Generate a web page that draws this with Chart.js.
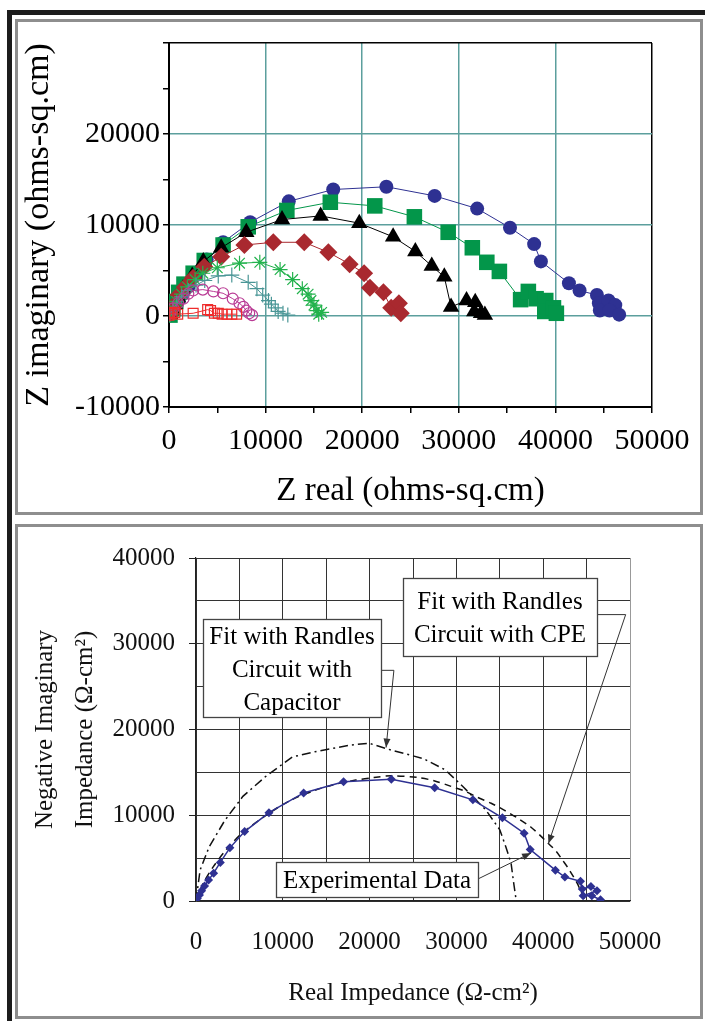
<!DOCTYPE html>
<html>
<head>
<meta charset="utf-8">
<script src="https://cdn.jsdelivr.net/npm/chart.js@4.4.1/dist/chart.umd.min.js"></script>
<style>
  html, body { margin: 0; padding: 0; background: #fff; }
  body { width: 705px; height: 1021px; position: relative; overflow: hidden; }
  .bar-top { position: absolute; left: 7px; top: 10px; width: 698px; height: 5px; background: #1c1c1c; }
  .bar-left { position: absolute; left: 7px; top: 10px; width: 5px; height: 1011px; background: #1c1c1c; }
  .frame { position: absolute; left: 15px; width: 682px; border: 3px solid #8e8e8e; }
  #frameTop { top: 19px; height: 490px; }
  #frameBottom { top: 524px; height: 489px; }
  canvas { display: block; }
</style>
</head>
<body>
<div class="bar-top"></div>
<div class="bar-left"></div>
<div class="frame" id="frameTop"><canvas id="nyquistAll" width="682" height="490"></canvas></div>
<div class="frame" id="frameBottom"><canvas id="nyquistFit" width="682" height="489"></canvas></div>
<script>
// measured impedance (Z real, Z imaginary), ohms-sq.cm
const expX = [150, 400, 650, 990, 1450, 2030, 2800, 3900, 5600, 8400, 12400, 17000, 22500, 27500, 31900, 35300, 37800, 38500, 41400, 42500, 44300, 44500, 45500, 46200, 44600, 45600, 46600];
const expY = [300, 700, 1200, 1750, 2450, 3250, 4500, 6200, 8100, 10300, 12600, 13900, 14200, 13200, 11800, 9700, 7900, 6000, 3600, 2800, 2300, 1400, 1700, 1200, 600, 600, 150];

const squareX = [100, 400, 700, 1000, 1550, 2500, 3650, 5600, 8200, 12200, 16700, 21300, 25400, 28900, 31400, 32900, 34200, 36400, 37200, 38000, 39000, 38900, 39800, 40100];
const squareY = [100, 800, 1600, 2600, 3500, 4700, 6100, 7800, 9800, 11600, 12500, 12100, 10900, 9200, 7500, 5900, 4900, 1800, 2700, 1900, 1700, 500, 900, 300];

const triX = [100, 300, 600, 950, 1450, 2400, 3550, 5400, 8000, 11700, 15700, 19700, 23200, 25500, 27200, 28500, 29200, 30800, 31700, 31600, 32300, 32700];
const triY = [200, 700, 1300, 2000, 3000, 4400, 6000, 7500, 9200, 10600, 11000, 10200, 8700, 7100, 5500, 4300, 1000, 1700, 1500, 500, 300, 100];

const diamondX = [100, 600, 1000, 1650, 2500, 3650, 5400, 7800, 10800, 14000, 16500, 18700, 20200, 20800, 22200, 23000, 23800, 24000];
const diamondY = [300, 1300, 2300, 3200, 4200, 5400, 6500, 7800, 8100, 8100, 7000, 5700, 4700, 3100, 2600, 900, 1400, 300];

const starX = [100, 400, 800, 1300, 1900, 2700, 3500, 5000, 7300, 9400, 11500, 12800, 13800, 14400, 14700, 15000, 15300, 15500, 15800];
const starY = [200, 800, 1600, 2400, 3200, 4000, 4700, 5300, 5800, 5900, 5100, 4000, 3000, 2400, 1700, 1200, 600, 200, 400];

const plusX = [100, 400, 800, 1300, 2000, 2800, 3700, 5100, 6500, 8200, 9100, 9700, 10300, 10600, 11000, 11300, 11800, 12300];
const plusY = [200, 700, 1400, 2100, 2800, 3400, 3900, 4400, 4500, 3700, 3000, 2300, 1700, 1300, 900, 500, 300, 100];

const ringX = [100, 450, 950, 1500, 2000, 2500, 3500, 4600, 5600, 6600, 7300, 7700, 8000, 8300, 8600];
const ringY = [300, 850, 1400, 1900, 2450, 2800, 2900, 2700, 2500, 1900, 1400, 1000, 600, 300, 100];

const openSqX = [0, 300, 600, 900, 2500, 4000, 4300, 4700, 5100, 5500, 6000, 6500, 7000];
const openSqY = [100, 300, 400, 200, 300, 700, 600, 300, 300, 200, 200, 200, 200];

// equivalent-circuit fits, Ω-cm²
const cpeX = [0, 800, 2000, 3500, 5300, 8500, 11000, 13700, 16000, 18400, 20500, 22500, 25600, 27500, 29300, 31000, 32400, 34000, 35500, 37000, 38600, 39700, 40600, 41500, 42200, 42900, 43500, 44000, 44300, 44600, 44800];
const cpeY = [0, 2000, 4000, 6000, 7900, 10300, 11800, 12900, 13600, 14100, 14400, 14600, 14400, 14000, 13400, 12800, 12100, 11400, 10600, 9700, 8600, 7600, 6700, 5800, 4800, 3800, 2800, 1900, 1200, 600, 100];

const capX = [0, 470, 1510, 3320, 5400, 8000, 11100, 13700, 17900, 19900, 22500, 26200, 28700, 30800, 33400, 35000, 35700, 36300, 36600, 36900];
const capY = [0, 3600, 6300, 9400, 12200, 14500, 16800, 17400, 18200, 18400, 17600, 16600, 15300, 13300, 10600, 8300, 6300, 4400, 2100, 0];

const topTitleX = 'Z real (ohms-sq.cm)';
const topTitleY = 'Z imaginary (ohms-sq.cm)';
const fitTitleX = 'Real Impedance (Ω-cm²)';
const fitTitleY = ['Negative Imaginary', 'Impedance (Ω-cm²)'];

const pts = (xs, ys) => xs.map((v, i) => ({ x: v, y: ys[i] }));
const serif = 'Liberation Serif';
const teal = '#5c9f9d';
const clear = 'rgba(0,0,0,0)';

function series(xs, ys, color, style, radius, fill) {
  return {
    data: pts(xs, ys),
    showLine: true,
    borderColor: color,
    borderWidth: 1,
    pointStyle: style,
    pointRadius: radius,
    pointBorderColor: color,
    pointBackgroundColor: fill ? color : clear,
    pointBorderWidth: fill ? 0 : 1.2,
    tension: 0
  };
}

// first dataset is drawn on top
new Chart(document.getElementById('nyquistAll'), {
  type: 'scatter',
  data: {
    datasets: [
      series(openSqX, openSqY, '#ee2c2c', 'rect', 7, false),
      series(ringX, ringY, '#b93a94', 'circle', 5.5, false),
      series(plusX, plusY, '#4a9696', 'cross', 7.5, false),
      series(starX, starY, '#22b24c', 'star', 7.5, false),
      series(diamondX, diamondY, '#a9292f', 'rectRot', 9, true),
      series(triX, triY, '#000000', 'triangle', 9.5, true),
      series(squareX, squareY, '#03964a', 'rect', 11, true),
      series(expX, expY, '#2e3192', 'circle', 7, true)
    ]
  },
  options: {
    responsive: false,
    animation: false,
    plugins: { legend: { display: false }, tooltip: { enabled: false } },
    layout: { padding: { left: 0, right: 48, top: 10, bottom: 0 } },
    scales: {
      x: {
        type: 'linear', min: 0, max: 50000,
        afterFit: s => { s.height = 105; },
        ticks: {
          stepSize: 5000, autoSkip: false, maxRotation: 0, padding: 10, color: '#000',
          font: { family: serif, size: 30 },
          callback: v => (v % 10000 === 0 ? String(v) : '')
        },
        grid: {
          color: c => (c.tick.value === 50000 ? '#000' : (c.tick.value % 10000 === 0 && c.tick.value > 0 ? teal : clear)),
          lineWidth: 1.5, tickColor: '#000', tickWidth: 1.5, tickLength: 6
        },
        border: { color: '#000', width: 2 },
        title: { display: true, text: topTitleX, color: '#000', font: { family: serif, size: 33 }, padding: { top: 0, bottom: 1 } }
      },
      y: {
        type: 'linear', min: -10000, max: 30000,
        afterFit: s => { s.width = 151; },
        ticks: {
          stepSize: 5000, autoSkip: false, padding: 3, color: '#000',
          font: { family: serif, size: 30 },
          callback: v => (v % 10000 === 0 && v < 30000 ? String(v) : '')
        },
        grid: {
          color: c => (c.tick.value === 30000 ? '#000' : (c.tick.value % 10000 === 0 && c.tick.value > -10000 ? teal : clear)),
          lineWidth: 1.5, tickColor: '#000', tickWidth: 1.5, tickLength: 6
        },
        border: { color: '#000', width: 2 },
        title: { display: true, text: topTitleY, color: '#000', font: { family: serif, size: 34, lineHeight: 1.1 }, padding: { top: 2, bottom: 0 } }
      }
    }
  }
});

// text boxes and leader arrows, placed in data units
const noteBoxes = [
  { lines: ['Fit with Randles', 'Circuit with', 'Capacitor'], x0: 800, x1: 21300, y0: 32900, y1: 21500 },
  { lines: ['Fit with Randles', 'Circuit with CPE'], x0: 23900, x1: 46250, y0: 37700, y1: 28600 },
  { lines: ['Experimental Data'], x0: 9200, x1: 32450, y0: 4550, y1: 450 }
];
const noteArrows = [
  [[21300, 26900], [22800, 26900], [21900, 17900]],
  [[46250, 33400], [49500, 33400], [40600, 6700]],
  [[32450, 2550], [38600, 5600]]
];

const callouts = {
  id: 'callouts',
  afterDatasetsDraw(chart) {
    const { ctx, scales: { x, y } } = chart;
    ctx.save();
    ctx.strokeStyle = '#333';
    ctx.fillStyle = '#333';
    ctx.lineWidth = 1;
    noteArrows.forEach(path => {
      const p = path.map(([vx, vy]) => [x.getPixelForValue(vx), y.getPixelForValue(vy)]);
      ctx.beginPath();
      p.forEach(([px, py], i) => (i ? ctx.lineTo(px, py) : ctx.moveTo(px, py)));
      ctx.stroke();
      const [ax, ay] = p[p.length - 2];
      const [bx, by] = p[p.length - 1];
      const a = Math.atan2(by - ay, bx - ax);
      const len = 9, half = 3.5;
      ctx.beginPath();
      ctx.moveTo(bx, by);
      ctx.lineTo(bx - len * Math.cos(a) + half * Math.sin(a), by - len * Math.sin(a) - half * Math.cos(a));
      ctx.lineTo(bx - len * Math.cos(a) - half * Math.sin(a), by - len * Math.sin(a) + half * Math.cos(a));
      ctx.closePath();
      ctx.fill();
    });
    noteBoxes.forEach(b => {
      const l = Math.round(x.getPixelForValue(b.x0)), r = Math.round(x.getPixelForValue(b.x1));
      const t = Math.round(y.getPixelForValue(b.y0)), bt = Math.round(y.getPixelForValue(b.y1));
      ctx.fillStyle = '#fff';
      ctx.fillRect(l, t, r - l, bt - t);
      ctx.strokeStyle = '#444';
      ctx.lineWidth = 1.3;
      ctx.strokeRect(l + 0.5, t + 0.5, r - l, bt - t);
      ctx.fillStyle = '#000';
      ctx.font = '25px "' + serif + '"';
      ctx.textAlign = 'center';
      ctx.textBaseline = 'middle';
      const cx = (l + r) / 2, cy = (t + bt) / 2 + 2;
      b.lines.forEach((s, i) => ctx.fillText(s, cx, cy + (i - (b.lines.length - 1) / 2) * 33));
    });
    ctx.restore();
  }
};

new Chart(document.getElementById('nyquistFit'), {
  type: 'scatter',
  data: {
    datasets: [
      {
        data: pts(expX, expY), showLine: true, borderColor: '#2e3192', borderWidth: 1.5,
        pointStyle: 'rectRot', pointRadius: 4.5, pointBackgroundColor: '#2e3192', pointBorderWidth: 0, tension: 0
      },
      {
        data: pts(cpeX, cpeY), showLine: true, borderColor: '#111', borderWidth: 1.5,
        borderDash: [7, 5], pointRadius: 0, tension: 0.3
      },
      {
        data: pts(capX, capY), showLine: true, borderColor: '#111', borderWidth: 1.5,
        borderDash: [9, 4, 2, 4], pointRadius: 0, tension: 0
      }
    ]
  },
  options: {
    responsive: false,
    animation: false,
    plugins: { legend: { display: false }, tooltip: { enabled: false } },
    layout: { padding: { left: 0, right: 70, top: 31, bottom: 0 } },
    scales: {
      x: {
        type: 'linear', min: 0, max: 50000,
        afterFit: s => { s.height = 115; },
        ticks: {
          stepSize: 5000, autoSkip: false, maxRotation: 0, padding: 26, color: '#111',
          font: { family: serif, size: 25 },
          callback: v => (v % 10000 === 0 ? String(v) : '')
        },
        grid: {
          color: c => (c.tick.value === 50000 ? '#999' : '#333'),
          lineWidth: 1, drawTicks: false
        },
        border: { color: '#222', width: 1.2 },
        title: { display: true, text: fitTitleX, color: '#111', font: { family: serif, size: 25 }, padding: { top: 0, bottom: 8 } }
      },
      y: {
        type: 'linear', min: 0, max: 40000,
        afterFit: s => { s.width = 178; },
        ticks: {
          stepSize: 5000, autoSkip: false, padding: 14, color: '#111',
          font: { family: serif, size: 25 },
          callback: v => (v % 10000 === 0 ? String(v) : '')
        },
        grid: {
          color: '#333', lineWidth: 1, tickLength: 7,
          tickColor: c => (c.tick.value % 10000 === 0 ? '#222' : clear)
        },
        border: { color: '#222', width: 1.2 },
        title: { display: true, text: fitTitleY, color: '#111', font: { family: serif, size: 25, lineHeight: 1.6 }, padding: { top: 7, bottom: 0 } }
      }
    }
  },
  plugins: [callouts]
});
</script>
</body>
</html>
